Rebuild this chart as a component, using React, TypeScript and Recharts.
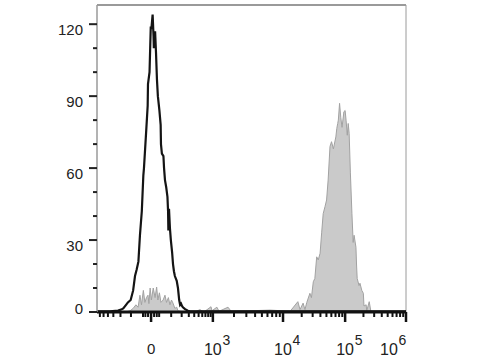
import { ComposedChart, Line, Area, XAxis, YAxis, ReferenceLine } from 'recharts'

// Unstained control (black outline): channel vs count
const controlChannel = [
  0, 42, 68, 78, 85, 94, 100, 109, 117, 123,
  128, 134, 139, 145, 150, 152, 159, 164, 165, 170,
  174, 176, 180, 183, 184, 188, 191, 194, 197, 202,
  206, 207, 210, 215, 217, 220, 224, 228, 230, 231,
  233, 236, 239, 243, 246, 249, 252, 258, 262, 266,
  269, 272, 275, 278, 285, 294, 301, 1000,
]
const controlCount = [
  0.3, 0.3, 0.6, 1.0, 1.5, 3, 4, 5, 9, 15,
  17.5, 21, 32, 42, 57, 60, 75, 86, 95, 100,
  119, 118, 124, 115, 110, 117, 108, 97, 90, 84,
  78, 70, 66, 65, 60, 55, 52, 48, 42, 34,
  43, 35, 30, 25, 20, 17, 15, 13, 10, 5,
  3, 3.5, 2.5, 2, 1.2, 0.5, 0.3, 0.3,
]

// Stained sample (grey filled): channel vs count
const stainedChannel = [
  0, 91, 107, 117, 126, 133, 139, 144, 150, 155,
  160, 165, 168, 172, 176, 182, 188, 193, 197, 202,
  207, 214, 220, 225, 231, 236, 241, 246, 252, 258,
  262, 272, 317, 333, 346, 369, 372, 388, 395, 424,
  434, 495, 560, 625, 650, 657, 667, 673, 679, 689,
  694, 700, 705, 711, 716, 722, 727, 732, 738, 743,
  748, 754, 759, 765, 773, 776, 779, 781, 785, 789,
  793, 799, 803, 806, 810, 813, 816, 820, 825, 829,
  832, 838, 840, 842, 848, 851, 857, 862, 864, 871,
  873, 881, 886, 890, 1000,
]
const stainedCount = [
  0, 0, 0.5, 1.5, 3, 2, 7, 3, 9, 4,
  6, 7, 3.5, 10, 5, 10, 6, 10.4, 5, 8,
  4, 5, 7, 4, 6, 3, 5, 3.7, 1.5, 2,
  0.5, 0.3, 0, 1, 0, 2.2, 0.5, 2, 0.3, 2,
  0.3, 0.5, 0.8, 0.3, 4.3, 1, 3.7, 1, 4, 7.8,
  6, 12.6, 14, 23, 21.7, 24.5, 33, 41, 44, 46.7,
  55, 69, 71, 68, 73, 76.5, 78.6, 80, 87, 81,
  77, 83.5, 84, 80, 73.7, 78.6, 74.5, 58, 41, 29,
  32, 27, 19.6, 14, 11, 12, 9, 7.8, 2.5, 3,
  0.5, 4.3, 0.5, 0, 0,
]

const yTicks = [0, 10, 20, 30, 40, 50, 60, 70, 80, 90, 100, 110, 120]
const yLabelEvery = 30

// x axis: fluorescence values (biexponential display)
const xMajorValues = [0, 1e3, 1e4, 1e5, 1e6]
const xMajorExponents = ['', '3', '4', '5', '6']
const xMinorValues = [
  -600, -500, -400, -300, -200, -100, -30, -20, -10,
  10, 20, 30, 100, 200, 300, 400, 500, 600, 700, 800, 900,
  2e3, 3e3, 4e3, 5e3, 6e3, 7e3, 8e3, 9e3,
  2e4, 3e4, 4e4, 5e4, 6e4, 7e4, 8e4, 9e4,
  2e5, 3e5, 4e5, 5e5, 6e5, 7e5, 8e5, 9e5,
]

// value -> display channel (0..1000)
const LIN_W = 70
const DECADE_CH: Record<number, number> = { 3: 375, 4: 602, 5: 803, 6: 1000 }
function toChannel(v: number): number {
  if (Math.abs(v) <= 1000) {
    const f = Math.log10(1 + Math.abs(v) / LIN_W) / Math.log10(1 + 1000 / LIN_W)
    return 175 + Math.sign(v) * 200 * f
  }
  const d = Math.log10(v)
  const k = Math.floor(d)
  if (k >= 6) return 1000
  return DECADE_CH[k] + (d - k) * (DECADE_CH[k + 1] - DECADE_CH[k])
}

const controlData = controlChannel.map((ch, i) => ({ ch, count: controlCount[i] }))
const stainedData = stainedChannel.map((ch, i) => ({ ch, count: stainedCount[i] }))
const majorChannels = xMajorValues.map(toChannel)
const xTicks = [...xMinorValues.map(toChannel), ...majorChannels].sort((a, b) => a - b)

const FONT = '"Liberation Sans", Arial, sans-serif'

function YTick({ x, y, payload }: any) {
  const v = payload.value as number
  const major = v % yLabelEvery === 0
  return (
    <g>
      <line x1={x - (major ? 8 : 4)} x2={x} y1={y} y2={y} stroke="#222" strokeWidth={2} />
      {major && (
        <text
          x={x - 14}
          y={y + (v === 0 ? 1.5 : 11)}
          textAnchor="end"
          fontSize={15}
          fontFamily={FONT}
          fill="#222"
        >
          {v}
        </text>
      )}
    </g>
  )
}

function XTick({ x, y, payload }: any) {
  const idx = majorChannels.findIndex((c) => Math.abs(c - payload.value) < 0.01)
  if (idx < 0) {
    return <line x1={x} x2={x} y1={y} y2={y + 5} stroke="#111" strokeWidth={2} />
  }
  const exp = xMajorExponents[idx]
  const shift = idx === xMajorValues.length - 1 ? -17 : 0
  return (
    <g>
      <line x1={x} x2={x} y1={y} y2={y + 10} stroke="#111" strokeWidth={2.5} />
      {exp === '' ? (
        <text x={x} y={y + 42} textAnchor="middle" fontSize={15} fontFamily={FONT} fill="#222">
          0
        </text>
      ) : (
        <g>
          <text x={x + shift} y={y + 43} textAnchor="middle" fontSize={16} fontFamily={FONT} fill="#222">
            10
          </text>
          <text x={x + shift + 9.5} y={y + 33} textAnchor="start" fontSize={14} fontFamily={FONT} fill="#222">
            {exp}
          </text>
        </g>
      )}
    </g>
  )
}

export default function App() {
  return (
    <div style={{ position: 'absolute', left: 0, top: 0, background: '#fff' }}>
      <ComposedChart width={480} height={360} margin={{ top: 5, right: 74, bottom: 0, left: 0 }}>
        <XAxis
          type="number"
          dataKey="ch"
          domain={[0, 1000]}
          ticks={xTicks}
          interval={0}
          tickLine={false}
          tickSize={0}
          tickMargin={0}
          height={48}
          axisLine={{ stroke: '#111', strokeWidth: 3 }}
          tick={<XTick />}
          allowDataOverflow
        />
        <YAxis
          type="number"
          domain={[0, 128]}
          ticks={yTicks}
          interval={0}
          width={97}
          tickLine={false}
          tickSize={0}
          tickMargin={0}
          axisLine={{ stroke: '#9a9a9a', strokeWidth: 1.5 }}
          tick={<YTick />}
          allowDataOverflow
        />
        <ReferenceLine y={128} stroke="#9a9a9a" strokeWidth={2} />
        <ReferenceLine x={1000} stroke="#9a9a9a" strokeWidth={1} />
        <Area
          data={stainedData}
          dataKey="count"
          type="linear"
          baseValue={0}
          fill="#cacaca"
          fillOpacity={1}
          stroke="#a2a2a2"
          strokeWidth={1}
          dot={false}
          activeDot={false}
          isAnimationActive={false}
        />
        <Line
          data={controlData}
          dataKey="count"
          type="linear"
          stroke="#141414"
          strokeWidth={2.2}
          dot={false}
          activeDot={false}
          isAnimationActive={false}
        />
      </ComposedChart>
    </div>
  )
}
